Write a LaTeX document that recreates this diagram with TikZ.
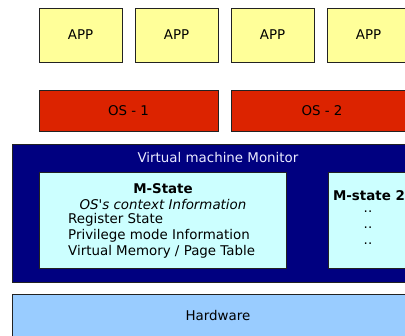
\documentclass[tikz,border=0pt]{standalone}
\usepackage{fontspec}
\setmainfont{DejaVu Sans}
\definecolor{appY}{HTML}{FFFF99}
\definecolor{osR}{HTML}{DC2300}
\definecolor{vmmB}{HTML}{000080}
\definecolor{msC}{HTML}{CCFFFF}
\definecolor{hwB}{HTML}{99CCFF}
\definecolor{edge}{HTML}{222222}
\tikzset{
  blk/.style={draw=edge, line width=0.9pt, rectangle, inner sep=0pt},
  txt/.style={font=\fontsize{13.4}{15}\selectfont, inner sep=0pt},
}
\begin{document}
\begin{tikzpicture}[x=1pt,y=-1pt]
\useasboundingbox (0,0) rectangle (405,336);
\clip (0,0) rectangle (405,336);
\fill[white] (0,0) rectangle (405,336);
% APPs
\node[blk, fill=appY, minimum width=83pt, minimum height=54pt, txt] (app1) at (80.5,35) {APP};
\node[blk, fill=appY, minimum width=83pt, minimum height=54pt, txt] (app2) at (176.5,35) {APP};
\node[blk, fill=appY, minimum width=83pt, minimum height=54pt, txt] (app3) at (272.5,35) {APP};
\node[blk, fill=appY, minimum width=83pt, minimum height=54pt, txt] (app4) at (368.5,35) {APP};
% OS
\node[blk, fill=osR, minimum width=179pt, minimum height=41pt, txt] (os1) at (128.5,110.5) {OS - 1};
\node[blk, fill=osR, minimum width=182pt, minimum height=41pt, txt] (os2) at (322,110.5) {OS - 2};
% VMM
\node[blk, fill=vmmB, minimum width=412pt, minimum height=138pt] (vmm) at (218,213) {};
\node[txt, text=white!92!blue] (vmmt) at (218,157.5) {Virtual machine Monitor};
% M-State
\node[blk, fill=msC, minimum width=247pt, minimum height=96pt] (ms1) at (162.5,220) {};
\node[txt, font=\fontsize{13.4}{15}\selectfont\bfseries] (ms1a) at (163,188.5) {M-State};
\node[txt, font=\fontsize{13.4}{15}\selectfont\itshape] (ms1b) at (163,204.5) {OS\textquotesingle s context Information};
\node[txt, anchor=west] (ms1c) at (68,220) {Register State};
\node[txt, anchor=west] (ms1d) at (68,235.5) {Privilege mode Information};
\node[txt, anchor=west] (ms1e) at (68,251.5) {Virtual Memory / Page Table};
% M-state 2
\node[blk, fill=msC, minimum width=82pt, minimum height=96pt] (ms2) at (369,220) {};
\node[txt, font=\fontsize{13.4}{15}\selectfont\bfseries] (ms2a) at (369,196) {M-state 2};
\node[txt] (ms2b) at (368,212) {..};
\node[txt] (ms2c) at (368,228) {..};
\node[txt] (ms2d) at (368,244) {..};
% Hardware
\node[blk, fill=hwB, minimum width=412pt, minimum height=60pt] (hw) at (218,324) {};
\node[txt] (hwt) at (218,316) {Hardware};
\end{tikzpicture}
\end{document}
